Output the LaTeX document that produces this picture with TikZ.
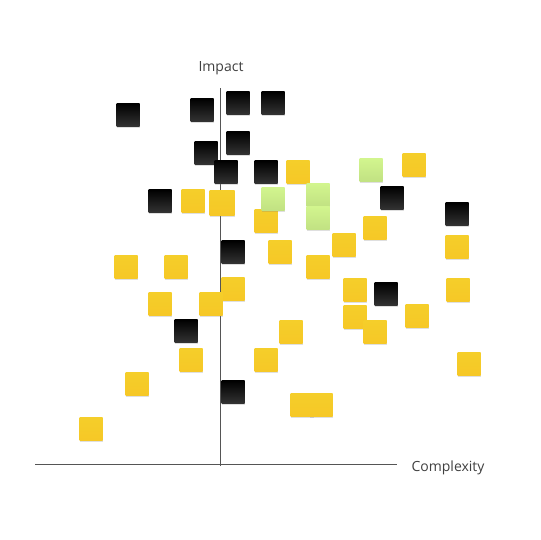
\documentclass[tikz,border=0pt]{standalone}
\usepackage{fontspec}
\setmainfont{Open Sans}
\usetikzlibrary{shadows}

\definecolor{zettelgelb}{HTML}{F5CE2A}
\definecolor{zettelgruen}{HTML}{D2F58E}
\definecolor{achsgrau}{HTML}{555555}

\tikzset{
  zettel/.style={minimum size=23pt, inner sep=0pt,
    drop shadow={shadow xshift=0pt, shadow yshift=-1.5pt, opacity=0.25}},
  gelb/.style={zettel, top color=zettelgelb, bottom color=zettelgelb!92!orange},
  gruen/.style={zettel, top color=zettelgruen, bottom color=zettelgruen!92!black},
  schwarz/.style={zettel, top color=black, bottom color=black!80},
  achse/.style={draw=achsgrau, line width=0.6pt},
  achstext/.style={text=black!75, font=\fontsize{14}{16}\selectfont}
}

\begin{document}
\begin{tikzpicture}[x=1pt, y=-1pt]
    \useasboundingbox[fill=white] (0,0) rectangle (540,540);

    % Achsen
    \coordinate (xl) at (35,464);
    \coordinate (xr) at (397,464);
    \coordinate (yb) at (220,466);
    \coordinate (yt) at (220,88);
    \draw[achse] (xl) -- (xr);
    \draw[achse] (yb) -- (yt);
    \node[achstext] (impact) at (221,68) {Impact};
    \node[achstext] (complexity) at (448,468) {Complexity};

    % gelbe Zettel
    \node[gelb] (y1) at (298,172) {};
    \node[gelb] (y2) at (414,165) {};
    \node[gelb] (y3) at (193,201) {};
    \node[gelb, minimum size=25pt] (y4) at (222,203) {};
    \node[gelb] (y5) at (266,221) {};
    \node[gelb] (y6) at (375,228) {};
    \node[gelb] (y7) at (344,245) {};
    \node[gelb] (y8) at (280,252) {};
    \node[gelb] (y9) at (457,247) {};
    \node[gelb] (y10) at (318,267) {};
    \node[gelb] (y11) at (126,267) {};
    \node[gelb] (y12) at (176,267) {};
    \node[gelb] (y13) at (233,289) {};
    \node[gelb] (y14) at (160,304) {};
    \node[gelb] (y15) at (211,304) {};
    \node[gelb] (y16) at (355,290) {};
    \node[gelb] (y17) at (458,290) {};
    \node[gelb] (y18) at (355,317) {};
    \node[gelb] (y19) at (417,316) {};
    \node[gelb] (y20) at (375,332) {};
    \node[gelb] (y21) at (291,332) {};
    \node[gelb] (y22) at (191,360) {};
    \node[gelb] (y23) at (266,360) {};
    \node[gelb] (y24) at (469,364) {};
    \node[gelb] (y25) at (137,384) {};
    \node[gelb] (y26) at (302,405) {};
    \node[gelb] (y27) at (321,405) {};
    \node[gelb] (y28) at (91,429) {};

    % gruene Zettel
    \node[gruen] (g1) at (371,170) {};
    \node[gruen] (g2) at (273,199) {};
    \node[gruen] (g3) at (318,195) {};
    \node[gruen] (g4) at (318,218) {};

    % schwarze Zettel
    \node[schwarz] (k1) at (128,115) {};
    \node[schwarz] (k2) at (202,110) {};
    \node[schwarz] (k3) at (238,103) {};
    \node[schwarz] (k4) at (273,103) {};
    \node[schwarz] (k5) at (238,143) {};
    \node[schwarz] (k6) at (206,153) {};
    \node[schwarz] (k7) at (226,172) {};
    \node[schwarz] (k8) at (266,172) {};
    \node[schwarz] (k9) at (160,201) {};
    \node[schwarz] (k10) at (392,198) {};
    \node[schwarz] (k11) at (457,214) {};
    \node[schwarz] (k12) at (233,252) {};
    \node[schwarz] (k13) at (386,294) {};
    \node[schwarz] (k14) at (186,331) {};
    \node[schwarz] (k15) at (233,392) {};
\end{tikzpicture}
\end{document}
